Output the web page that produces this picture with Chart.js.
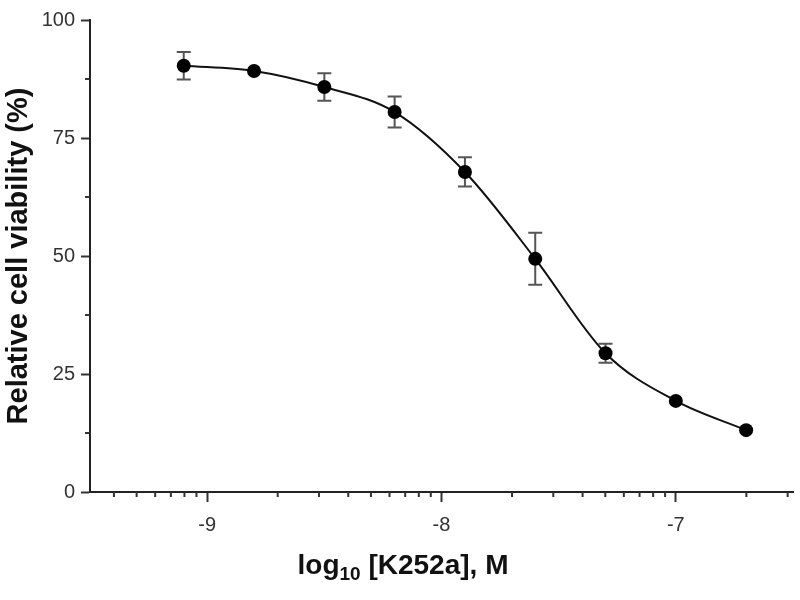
<!DOCTYPE html>
<html>
<head>
<meta charset="utf-8">
<script src="https://cdn.jsdelivr.net/npm/chart.js@4.4.1/dist/chart.umd.min.js"></script>
<style>
  html, body { margin: 0; padding: 0; background: #fff; }
  #wrap { width: 800px; height: 600px; }
</style>
</head>
<body>
<div id="wrap"><canvas id="myChart" width="800" height="600"></canvas></div>
<script>
// log10 of K252a concentration (M)
const doses = [-9.1, -8.8, -8.5, -8.2, -7.9, -7.6, -7.3, -7.0, -6.7];
// relative cell viability (%)
const viability = [90.3, 89.2, 85.8, 80.5, 67.8, 49.4, 29.4, 19.3, 13.1];
// error bar half-heights (%)
const errors = [2.9, 0.6, 2.9, 3.3, 3.1, 5.5, 2.0, 0.6, 0.6];

const xMajorTicks = [-9, -8, -7];
const xDecades = [-10, -9, -8, -7];
const xMinorFactors = [2, 3, 4, 5, 6, 7, 8, 9];
const yMajorTicks = [0, 25, 50, 75, 100];
const yMinorTicks = [12.5, 37.5, 62.5, 87.5];

const xMin = -9.5, xMax = -6.5;
const markerRadius = 7;

// minor log ticks inside the axis range
const xMinorTicks = [];
xDecades.forEach((d) => {
  xMinorFactors.forEach((f) => {
    const v = d + Math.log10(f);
    if (v > xMin && v < xMax) xMinorTicks.push(v);
  });
});

const minorTicks = {
  id: 'minorTicks',
  afterDraw(chart) {
    const { ctx, scales: { x, y } } = chart;
    ctx.save();
    ctx.strokeStyle = '#333';
    ctx.lineWidth = 2;
    xMinorTicks.forEach((v) => {
      const px = x.getPixelForValue(v);
      ctx.beginPath();
      ctx.moveTo(px, x.top);
      ctx.lineTo(px, x.top + 5);
      ctx.stroke();
    });
    yMinorTicks.forEach((v) => {
      const py = y.getPixelForValue(v);
      ctx.beginPath();
      ctx.moveTo(y.right, py);
      ctx.lineTo(y.right - 5, py);
      ctx.stroke();
    });
    ctx.restore();
  },
};

const errorBars = {
  id: 'errorBars',
  beforeDatasetsDraw(chart) {
    const { ctx, scales: { x, y } } = chart;
    ctx.save();
    ctx.strokeStyle = '#555';
    ctx.lineWidth = 2;
    doses.forEach((d, i) => {
      const px = x.getPixelForValue(d);
      const top = y.getPixelForValue(viability[i] + errors[i]);
      const bot = y.getPixelForValue(viability[i] - errors[i]);
      // bars shorter than the marker are hidden behind it (as in GraphPad)
      if ((bot - top) / 2 <= markerRadius) return;
      ctx.beginPath();
      ctx.moveTo(px, top);
      ctx.lineTo(px, bot);
      ctx.moveTo(px - 7, top);
      ctx.lineTo(px + 7, top);
      ctx.moveTo(px - 7, bot);
      ctx.lineTo(px + 7, bot);
      ctx.stroke();
    });
    ctx.restore();
  },
};

// axis titles (x title needs a subscript)
const axisTitles = {
  id: 'axisTitles',
  afterDraw(chart) {
    const ctx = chart.ctx;
    ctx.save();
    ctx.fillStyle = '#111';
    ctx.textBaseline = 'alphabetic';

    // y title
    ctx.font = 'bold 29px "Liberation Sans", Arial, sans-serif';
    ctx.translate(27, 256);
    ctx.rotate(-Math.PI / 2);
    ctx.textAlign = 'center';
    ctx.fillText('Relative cell viability (%)', 0, 0);
    ctx.setTransform(1, 0, 0, 1, 0, 0);

    // x title
    const big = 'bold 28px "Liberation Sans", Arial, sans-serif';
    const small = 'bold 19px "Liberation Sans", Arial, sans-serif';
    ctx.textAlign = 'left';
    ctx.font = big;
    const w1 = ctx.measureText('log').width;
    const w3 = ctx.measureText(' [K252a], M').width;
    ctx.font = small;
    const w2 = ctx.measureText('10').width;
    let xs = 403 - (w1 + w2 + w3) / 2;
    const base = 574;
    ctx.font = big;
    ctx.fillText('log', xs, base);
    xs += w1;
    ctx.font = small;
    ctx.fillText('10', xs, base + 6);
    xs += w2;
    ctx.font = big;
    ctx.fillText(' [K252a], M', xs, base);
    ctx.restore();
  },
};

const tickFont = { family: '"Liberation Sans", Arial, sans-serif', size: 20 };

new Chart(document.getElementById('myChart').getContext('2d'), {
  type: 'line',
  data: {
    datasets: [
      {
        data: doses.map((d, i) => ({ x: d, y: viability[i] })),
        borderColor: '#111',
        borderWidth: 2,
        pointRadius: markerRadius,
        pointBackgroundColor: '#000',
        pointBorderColor: '#000',
        pointBorderWidth: 0,
        cubicInterpolationMode: 'monotone',
        fill: false,
      },
    ],
  },
  options: {
    responsive: false,
    animation: false,
    layout: { padding: { top: 20, right: 5, left: 0, bottom: 0 } },
    plugins: {
      legend: { display: false },
      tooltip: { enabled: false },
    },
    scales: {
      x: {
        type: 'linear',
        min: xMin,
        max: xMax,
        afterBuildTicks: (scale) => {
          scale.ticks = xMajorTicks.map((v) => ({ value: v }));
        },
        afterFit: (scale) => {
          scale.height = 108;
        },
        ticks: {
          font: tickFont,
          color: '#333',
          padding: 11,
          maxRotation: 0,
          callback: (v) => String(v),
        },
        grid: {
          drawOnChartArea: false,
          drawTicks: true,
          tickLength: 10,
          tickWidth: 2,
          tickColor: '#333',
        },
        border: { display: true, color: '#222', width: 2 },
      },
      y: {
        type: 'linear',
        min: 0,
        max: 100,
        afterBuildTicks: (scale) => {
          scale.ticks = yMajorTicks.map((v) => ({ value: v }));
        },
        afterFit: (scale) => {
          scale.width = 90;
        },
        ticks: {
          font: tickFont,
          color: '#333',
          padding: 6,
          callback: (v) => String(v),
        },
        grid: {
          drawOnChartArea: false,
          drawTicks: true,
          tickLength: 9,
          tickWidth: 2,
          tickColor: '#333',
        },
        border: { display: true, color: '#222', width: 2 },
      },
    },
  },
  plugins: [errorBars, minorTicks, axisTitles],
});
</script>
</body>
</html>
